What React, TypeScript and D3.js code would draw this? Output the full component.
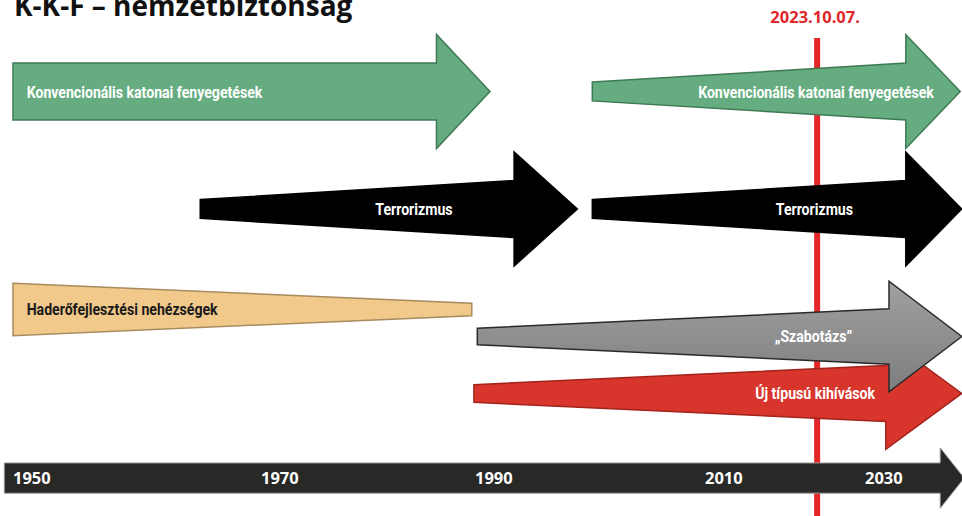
// App.tsx
import React from "react";
import * as d3 from "d3";

// timeline ticks
const tickYears = [1950, 1970, 1990, 2010, 2030];
const tickLabels = ["1950", "1970", "1990", "2010", "2030"];

// threat arrows (years along the timeline, levels = relative intensity)
const threatKeys = ["conventional", "conventional", "terror", "terror", "force", "newtype", "sabotage"];
const threatLabels = [
  "Konvencionális katonai fenyegetések",
  "Konvencionális katonai fenyegetések",
  "Terrorizmus",
  "Terrorizmus",
  "Haderőfejlesztési nehézségek",
  "Új típusú kihívások",
  "„Szabotázs”",
];
const startYears = [1950, 2000.2, 1965.1, 2000.2, 1950, 1989.9, 1990.2];
const headYears = [1986.4, 2035.1, 1993.4, 2035.1, 1989.7, 2032.6, 2033.0];
const tipYears = [1991.3, 2041.9, 1998.9, 2042.1, null, 2042.1, 2042.1];
const startLevels = [1, 0.33, 0.33, 0.33, 0.92, 0.31, 0.29];
const endLevels = [1, 1, 1, 1, 0.22, 0.98, 0.97];
const rows = [0, 0, 1, 1, 1.855, 2.57, 2.085];
const labelYears = [1951.1, 2038.6, 1987.9, 2028.5, 1951.1, 2031.25, 2028.4];
const labelAnchors = ["start", "end", "end", "end", "start", "end", "end"];

// key date
const eventYear = 2023 + 280 / 365;
const eventLabel = "2023.10.07.";

// axis band
const axisStart = 1949.3;
const axisHead = 2039.4;
const axisTip = 2042.4;
const axisRow = 3.29;
const axisLevel = 0.53;

const title = "K-K-F – nemzetbiztonság";

const styles: Record<string, { fill: string; stroke: string; text: string }> = {
  conventional: { fill: "#65ad80", stroke: "#3f7a55", text: "#ffffff" },
  terror: { fill: "#000000", stroke: "#000000", text: "#ffffff" },
  force: { fill: "#f1c98b", stroke: "#a88b5e", text: "#1a1a1a" },
  newtype: { fill: "#d8352c", stroke: "#a3231d", text: "#ffffff" },
  sabotage: { fill: "url(#grayGrad)", stroke: "#2a2a2a", text: "#ffffff" },
};

const width = 962;
const height = 516;

const x = d3.scaleLinear().domain(tickYears).range([13, 261, 475, 705, 865]);
const y = d3.scaleLinear().domain([0, 1]).range([91.5, 209]);
const thick = d3.scaleLinear().domain([0, 1]).range([0, 28.5]);

const line = d3.line<[number, number]>();

function arrowPath(x0: number, xb: number, xt: number | null, yc: number, h0: number, h1: number) {
  if (xt === null) {
    return line([
      [x0, yc - h0],
      [xb, yc - h1],
      [xb, yc + h1],
      [x0, yc + h0],
    ]) + "Z";
  }
  const hh = h1 * 2;
  return line([
    [x0, yc - h0],
    [xb, yc - h1],
    [xb, yc - hh],
    [xt, yc],
    [xb, yc + hh],
    [xb, yc + h1],
    [x0, yc + h0],
  ]) + "Z";
}

const labelFont = "Roboto, 'Open Sans', sans-serif";

export default function App() {
  const xe = x(eventYear);
  return (
    <svg width={width} height={height} style={{ position: "absolute", left: 0, top: 0, background: "#fff" }}>
      <defs>
        <linearGradient id="grayGrad" x1="0" y1="0" x2="0" y2="1">
          <stop offset="0" stopColor="#a0a0a0" />
          <stop offset="1" stopColor="#7e7e7e" />
        </linearGradient>
      </defs>

      {/* title */}
      <text x={14} y={16} fontFamily="'Open Sans', sans-serif" fontWeight={700} fontSize={28} fill="#111">
        {title}
      </text>

      {/* event marker */}
      <line x1={xe + 2} x2={xe + 2} y1={38} y2={height} stroke="#e3262a" strokeWidth={6} />
      <text x={xe} y={23} textAnchor="middle" fontFamily="'Open Sans', sans-serif" fontWeight={700} fontSize={16.5} fill="#e0262b">
        {eventLabel}
      </text>

      {/* arrows */}
      {threatLabels.map((lab, i) => {
        const st = styles[threatKeys[i]];
        const yc = y(rows[i]);
        const tip = tipYears[i];
        const d = arrowPath(
          x(startYears[i]),
          x(headYears[i]),
          tip === null ? null : x(tip),
          yc,
          thick(startLevels[i]),
          thick(endLevels[i])
        );
        const lx = x(labelYears[i]);
        return (
          <g key={i}>
            <path d={d} fill={st.fill} stroke={st.stroke} strokeWidth={1.5} strokeLinejoin="miter" />
            <text
              transform={`translate(${lx},${yc + 6}) scale(0.83,1)`}
              textAnchor={labelAnchors[i]}
              fontFamily={labelFont}
              fontWeight={700}
              fontSize={17}
              fill={st.text}
            >
              {lab}
            </text>
          </g>
        );
      })}

      {/* timeline axis */}
      <path
        d={arrowPath(x(axisStart), x(axisHead), x(axisTip), y(axisRow), thick(axisLevel), thick(axisLevel))}
        fill="#282826"
        stroke="#9a9a9a"
        strokeWidth={1}
      />
      {tickYears.map((yr, i) => (
        <text
          key={yr}
          x={x(yr)}
          y={y(axisRow) + 6}
          fontFamily="'Open Sans', sans-serif"
          fontWeight={700}
          fontSize={16.5}
          fill="#fff"
        >
          {tickLabels[i]}
        </text>
      ))}
    </svg>
  );
}
